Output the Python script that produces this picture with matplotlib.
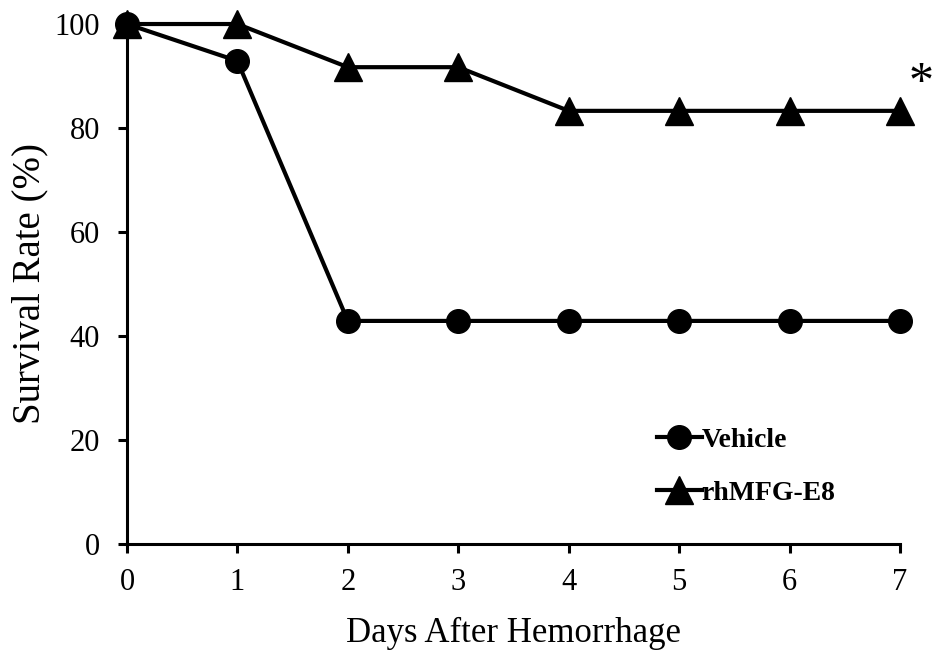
import matplotlib.pyplot as plt

days = [0, 1, 2, 3, 4, 5, 6, 7]
vehicle = [100, 92.9, 42.9, 42.9, 42.9, 42.9, 42.9, 42.9]
rhmfg = [100, 100, 91.7, 91.7, 83.3, 83.3, 83.3, 83.3]

plt.rcParams['font.family'] = ['Liberation Serif', 'DejaVu Serif']

fig = plt.figure(figsize=(9.37, 6.6), dpi=100)
ax = fig.add_axes([0.1355, 0.1758, 0.825, 0.7878])

ax.plot(days, vehicle, color='black', lw=3, marker='o', markersize=17, label='Vehicle', clip_on=False, zorder=3)
ax.plot(days, rhmfg, color='black', lw=3, marker='^', markersize=20, label='rhMFG-E8', clip_on=False, zorder=3)

ax.set_xlim(0, 7)
ax.set_ylim(0, 100)
ax.set_xticks(days)
ax.set_yticks([0, 20, 40, 60, 80, 100])
for s in ['top', 'right']:
    ax.spines[s].set_visible(False)
for s in ['left', 'bottom']:
    ax.spines[s].set_linewidth(2.2)
ax.tick_params(width=2.2, length=6.5, labelsize=22)
ax.tick_params(axis='x', pad=11)
ax.tick_params(axis='y', pad=13)

ax.set_xlabel('Days After Hemorrhage', fontsize=25, labelpad=14)
ax.set_ylabel('Survival Rate (%)', fontsize=28, labelpad=4)

ax.text(7.19, 88.5, '*', fontsize=36, ha='center', va='center')

leg = ax.legend(loc='upper left', bbox_to_anchor=(0.686, 0.224), frameon=False,
                prop={'size': 20, 'weight': 'bold'}, handlelength=1.6, handletextpad=0.0,
                labelspacing=1.0, borderpad=0, borderaxespad=0, markerscale=1.0)

fig.savefig('out.png', dpi=100)
